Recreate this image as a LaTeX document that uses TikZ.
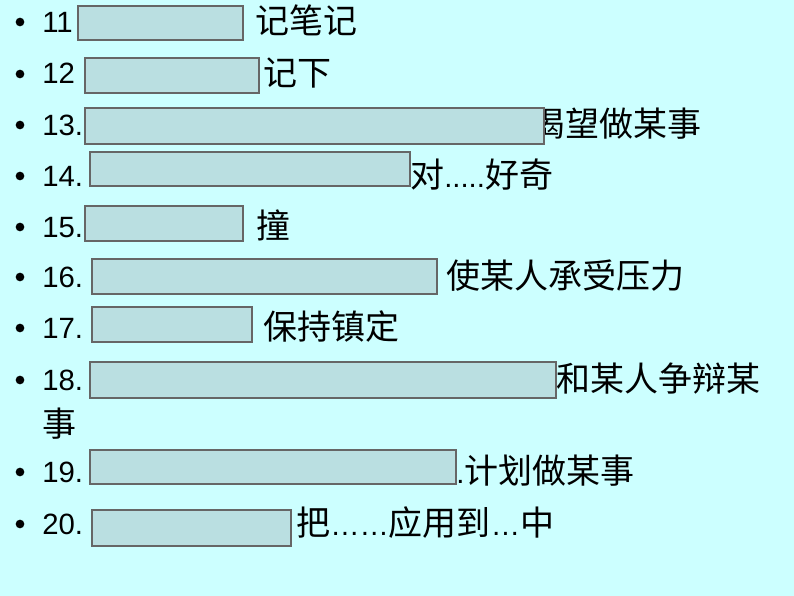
\documentclass[tikz,border=0pt]{standalone}
\usepackage{fontspec}
\setmainfont{Liberation Sans}
\newfontfamily\cjkf{Noto Sans CJK SC}
\newcommand{\cjk}{\cjkf\fontsize{25.5}{28}\selectfont}
\begin{document}
\begin{tikzpicture}[x=0.75pt,y=-0.75pt,
  txt/.style={anchor=base west,inner sep=0pt,font=\fontsize{22}{24}\selectfont},
  cover/.style={draw=gray!80!black,fill=coverc,line width=1pt},
  bul/.style={circle,fill=black,inner sep=0pt,minimum size=6.5pt}]
\definecolor{bgc}{HTML}{CCFFFF}
\definecolor{coverc}{HTML}{BADFE1}
\fill[bgc] (0,0) rectangle (794,596);
\useasboundingbox (0,0) rectangle (794,596);
\foreach \y/\n [count=\i] in {22/11,74/12,125/13.,176/14.,227/15.,277/16.,328/17.,380/18.,472/19.,524/20.}{
  \node[bul] (b\i) at (20,\y) {};
  \node[txt] (n\i) at (42,\y+10) {\n};
}
\node[txt] (t1) at (255,33) {\cjk 记笔记};
\node[txt] (t2) at (263,85) {\cjk 记下};
\node[txt] (t3) at (531,136) {\cjk 渴望做某事};
\node[txt] (t4) at (410,187) {\cjk 对\rmfamily\fontsize{22}{24}\selectfont .....\cjk 好奇};
\node[txt] (t5) at (256,238) {\cjk 撞};
\node[txt] (t6) at (446,288) {\cjk 使某人承受压力};
\node[txt] (t7) at (263,339) {\cjk 保持镇定};
\node[txt] (t8) at (556,391) {\cjk 和某人争辩某};
\node[txt] (t8b) at (42,436) {\cjk 事};
\node[txt] (t9) at (456,483) {.\cjk 计划做某事};
\node[txt] (t10) at (296,535) {\cjk 把\rmfamily\fontsize{22}{24}\selectfont ……\cjk 应用到\rmfamily\fontsize{22}{24}\selectfont …\cjk 中};
\draw[cover] (78,6) rectangle (243,40);
\draw[cover] (85,58) rectangle (259,93);
\draw[cover] (85,108) rectangle (544,144);
\draw[cover] (90,152) rectangle (410,186);
\draw[cover] (85,206) rectangle (243,241);
\draw[cover] (92,259) rectangle (437,294);
\draw[cover] (92,307) rectangle (252,342);
\draw[cover] (90,362) rectangle (556,398);
\draw[cover] (90,450) rectangle (456,484);
\draw[cover] (92,510) rectangle (291,546);
\end{tikzpicture}
\end{document}
